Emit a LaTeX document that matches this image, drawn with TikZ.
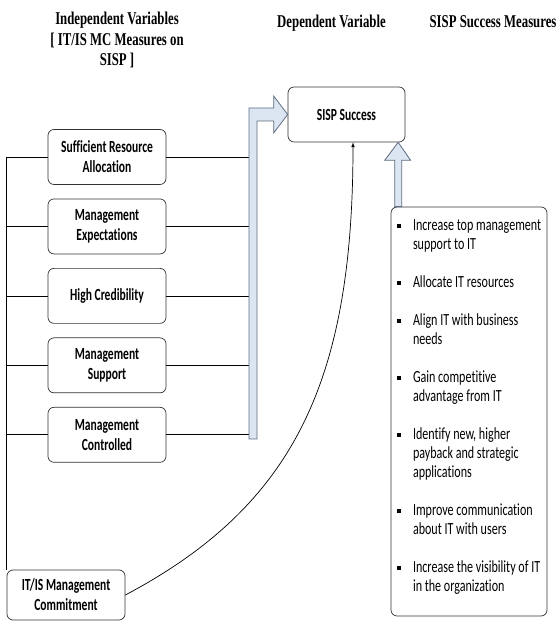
\documentclass[tikz,border=0pt]{standalone}
\usepackage{fontspec}
\newfontfamily\boxfont[FakeStretch=0.71,Ligatures=NoCommon]{Carlito}
\newfontfamily\labelfont[FakeStretch=0.68,Ligatures=NoCommon]{Carlito}
\newfontfamily\titlefont[FakeStretch=0.71]{Liberation Serif}
\usetikzlibrary{calc,positioning}
\definecolor{barfill}{RGB}{220,230,242}
\definecolor{bardraw}{RGB}{95,108,128}
\definecolor{boxdraw}{RGB}{50,50,50}
\tikzset{>=latex}
\tikzset{varbox/.style={draw=boxdraw, rounded corners=6pt, minimum width=118pt, minimum height=55pt, align=center, inner sep=0pt, font=\labelfont\bfseries\fontsize{17}{20}\selectfont}}
\tikzset{heading/.style={align=center, inner sep=0pt, font=\titlefont\bfseries\fontsize{18}{20.5}\selectfont}}
\tikzset{blockarrow/.style={draw=bardraw, fill=barfill, line width=0.8pt}}
\newcommand{\bul}{\makebox[16pt][l]{\raisebox{3pt}{\rule{3.5pt}{3.5pt}}}}
\newcommand{\ind}{\hspace*{16pt}}

\begin{document}
\begin{tikzpicture}[x=1pt,y=1pt,line width=0.7pt]
      \useasboundingbox (0,0) rectangle (559,621);
      % headings
      \node[heading,anchor=north] (indep) at (117,609) {Independent Variables\\{[} IT/IS MC Measures on\\SISP ]};
      \node[heading,anchor=base] (dep) at (331.5,593) {Dependent Variable};
      \node[heading,anchor=base] (meashead) at (493,593) {SISP Success Measures};
      % boxes
      \node[varbox, minimum width=117pt] (sisp) at (346.5,506.5) {SISP Success};
      \node[varbox] (sra) at (107,464) {Sufficient Resource\\Allocation};
      \node[varbox, below=13.75pt of sra] (mexp) {Management\\Expectations};
      \node[varbox, below=13.75pt of mexp] (hcred) {High Credibility};
      \node[varbox, below=13.75pt of hcred] (msup) {Management\\Support};
      \node[varbox, below=13.75pt of msup] (mctrl) {Management\\Controlled};
      \node[varbox, minimum height=50pt] (itis) at (66,26) {IT/IS Management\\Commitment};
      \node[draw=boxdraw, rounded corners=6pt, minimum width=156pt, minimum height=409pt] (meas) at (469,209.5) {};
      \node[anchor=north west, inner sep=0pt, align=left, font=\boxfont\fontsize{17}{19}\selectfont] (measlist) at ($(meas.north west)+(6,-13)$) {%
        \bul Increase top management\\ \ind support to IT\\[19pt]
        \bul Allocate IT resources\\[19pt]
        \bul Align IT with business\\ \ind needs\\[19pt]
        \bul Gain competitive\\ \ind advantage from IT\\[19pt]
        \bul Identify new, higher\\ \ind payback and strategic\\ \ind applications\\[19pt]
        \bul Improve communication\\ \ind about IT with users\\[19pt]
        \bul Increase the visibility of IT\\ \ind in the organization};
      % left spine
      \draw (sra.west) -| (itis.north west);
      \foreach \b in {mexp,hcred,msup,mctrl}
        \draw (\b.west) -- (\b.west -| itis.west);
      % right side into the bar
      \coordinate (barL) at (249,182);
      \coordinate (barR) at (257,182);
      \foreach \b in {sra,mexp,hcred,msup,mctrl}
        \draw (\b.east) -- (\b.east -| barL);
      \draw[blockarrow] (barL) |- ($(sisp.west)+(-14,6.5)$) -- ++(0,12) -- (sisp.west)
        -- ($(sisp.west)+(-14,-18.5)$) -- ++(0,12) -| (barR) -- cycle;
      % measures arrow
      \coordinate (ua) at ($(meas.north west)+(7.5,0)$);
      \coordinate (ut) at (ua |- sisp.south);
      \draw[blockarrow] ($(ua)+(-3.5,0)$) -- ($(ut)+(-3.5,-18)$) -- ++(-10,0) -- (ut)
        -- ($(ut)+(12.5,-18)$) -- ++(-9,0) -- ($(ua)+(3.5,0)$) -- cycle;
      % commitment curve
      \coordinate (st) at ($(sisp.south)+(6.5,0)$);
      \draw[->] (itis.east) .. controls +(168,89) and +(0,-240) .. (st);
    \end{tikzpicture}
\end{document}
